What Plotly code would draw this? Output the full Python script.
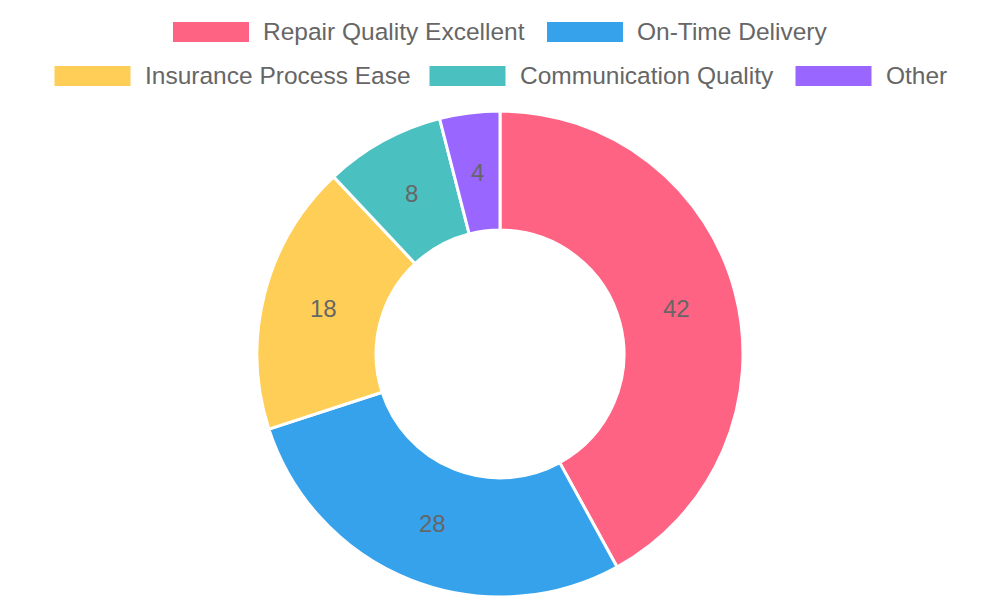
import math
import plotly.graph_objects as go

categories = ["Repair Quality Excellent", "On-Time Delivery", "Insurance Process Ease",
              "Communication Quality", "Other"]
values = [42, 28, 18, 8, 4]
colors = ["#FF6384", "#36A2EB", "#FFCE56", "#4BC0C0", "#9966FF"]

W, H = 1000, 600
FONT = "Liberation Sans, Arial, sans-serif"

# pie geometry (pixels)
cx, cy, r_out, hole = 500, 354, 243, 0.51

fig = go.Figure()
fig.add_trace(go.Pie(
    labels=categories,
    values=values,
    marker=dict(colors=colors, line=dict(color="white", width=3)),
    hole=hole,
    sort=False,
    direction="clockwise",
    rotation=0,
    textinfo="none",
    domain=dict(x=[(cx - r_out) / W, (cx + r_out) / W],
                y=[1 - (cy + r_out) / H, 1 - (cy - r_out) / H]),
    showlegend=False,
    hoverinfo="label+value",
))

# value labels at mid-radius of each slice (Chart.js datalabels style)
total = sum(values)
r_mid = 242 * (1 + hole) / 2
acc = 0
for v in values:
    ang = 2 * math.pi * (acc + v / 2) / total
    acc += v
    px = cx + r_mid * math.sin(ang)
    py = cy - r_mid * math.cos(ang)
    fig.add_annotation(xref="paper", yref="paper", x=px / W, y=1 - py / H,
                       xanchor="center", yanchor="middle", showarrow=False,
                       text=str(v), font=dict(family=FONT, size=24, color="#666666"))

# Manual legend (Chart.js style): two centered rows
rows = [[0, 1], [2, 3, 4]]
box_w, box_h, gap_box_text, gap_items = 76, 20, 14, 22
row_y = [32, 76]
font_size = 24.5
text_w = {"Repair Quality Excellent": 262, "On-Time Delivery": 190,
          "Insurance Process Ease": 263, "Communication Quality": 254, "Other": 60}
for ri, row in enumerate(rows):
    tot = sum(box_w + gap_box_text + text_w[categories[i]] for i in row) + gap_items * (len(row) - 1)
    x = (W - tot) / 2
    y = row_y[ri]
    for i in row:
        fig.add_shape(type="rect", xref="paper", yref="paper",
                      x0=x / W, x1=(x + box_w) / W,
                      y0=1 - (y + box_h / 2) / H, y1=1 - (y - box_h / 2) / H,
                      fillcolor=colors[i], line=dict(width=0))
        fig.add_annotation(xref="paper", yref="paper",
                           x=(x + box_w + gap_box_text - 2) / W, y=1 - (y - 0.5) / H,
                           xanchor="left", yanchor="middle", showarrow=False,
                           text=categories[i],
                           font=dict(family=FONT, size=font_size, color="#666666"))
        x += box_w + gap_box_text + text_w[categories[i]] + gap_items

fig.update_layout(
    width=W, height=H,
    margin=dict(l=0, r=0, t=0, b=0),
    paper_bgcolor="white",
    plot_bgcolor="white",
)

fig.write_html("out.html")
